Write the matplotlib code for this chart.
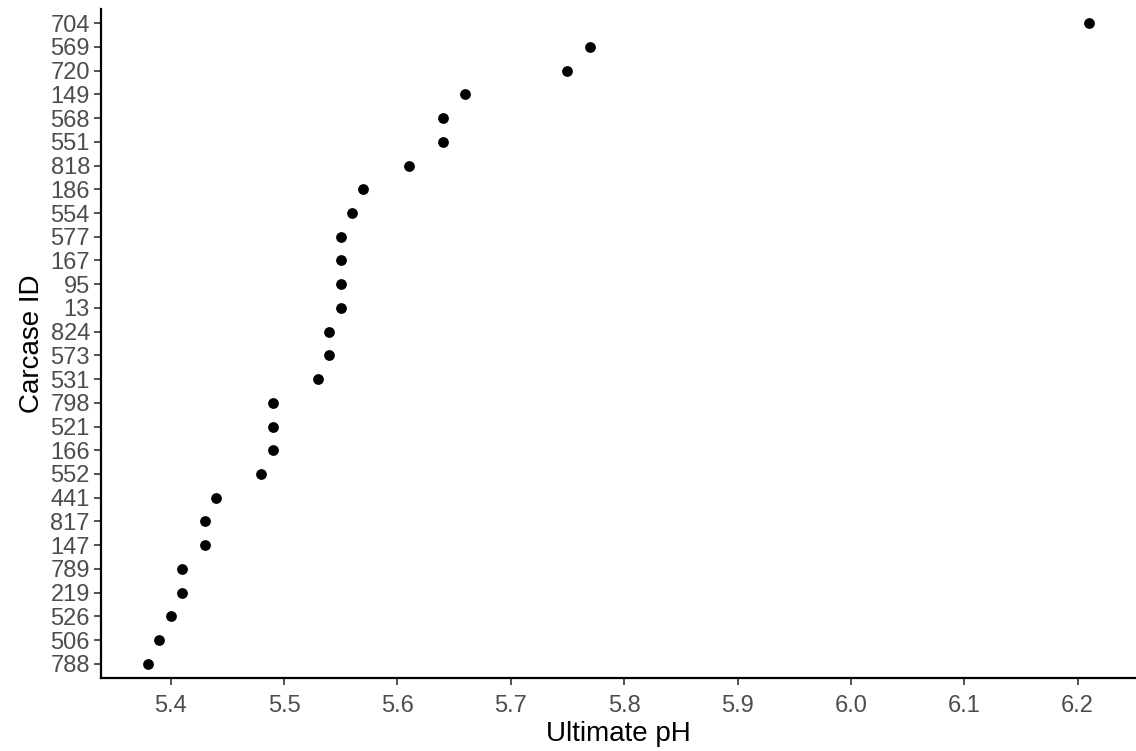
import matplotlib
matplotlib.use("Agg")
import matplotlib.pyplot as plt

# carcase ids ordered bottom to top, with ultimate pH
carcase_ids = ["788", "506", "526", "219", "789", "147", "817", "441", "552", "166",
               "521", "798", "531", "573", "824", "13", "95", "167", "577", "554",
               "186", "818", "551", "568", "149", "720", "569", "704"]
ph_values = [5.38, 5.39, 5.40, 5.41, 5.41, 5.43, 5.43, 5.44, 5.48, 5.49,
             5.49, 5.49, 5.53, 5.54, 5.54, 5.55, 5.55, 5.55, 5.55, 5.56,
             5.57, 5.61, 5.64, 5.64, 5.66, 5.75, 5.77, 6.21]
x_ticks = [5.4, 5.5, 5.6, 5.7, 5.8, 5.9, 6.0, 6.1, 6.2]

plt.rcParams['font.family'] = ['Liberation Sans', 'DejaVu Sans']

fig = plt.figure(figsize=(11.36, 7.51), dpi=100)
ax = fig.add_axes([101/1136, 73/751, 1 - 101/1136, (678 - 9)/751])

ypos = list(range(len(carcase_ids)))
ax.scatter(ph_values, ypos, s=60, color='black', zorder=3, linewidths=0)

ax.set_yticks(ypos)
ax.set_yticklabels(carcase_ids)
ax.set_xticks(x_ticks)
ax.set_xticklabels([f"{t:.1f}" for t in x_ticks])

rng = max(ph_values) - min(ph_values)
ax.set_xlim(min(ph_values) - 0.05 * rng, max(ph_values) + 0.05 * rng)
ax.set_ylim(-0.6, len(carcase_ids) - 1 + 0.6)

for side in ['top', 'right']:
    ax.spines[side].set_visible(False)
for side in ['left', 'bottom']:
    ax.spines[side].set_linewidth(1.6)
    ax.spines[side].set_color('black')

ax.tick_params(axis='both', length=5, width=1.2, color='#333333',
               labelcolor='#4D4D4D', labelsize=17)
ax.tick_params(axis='y', pad=3)
ax.tick_params(axis='x', pad=7)

ax.set_xlabel('Ultimate pH', fontsize=20, labelpad=3)
ax.set_ylabel('Carcase ID', fontsize=20, labelpad=4)

fig.savefig('out.png', dpi=100)
